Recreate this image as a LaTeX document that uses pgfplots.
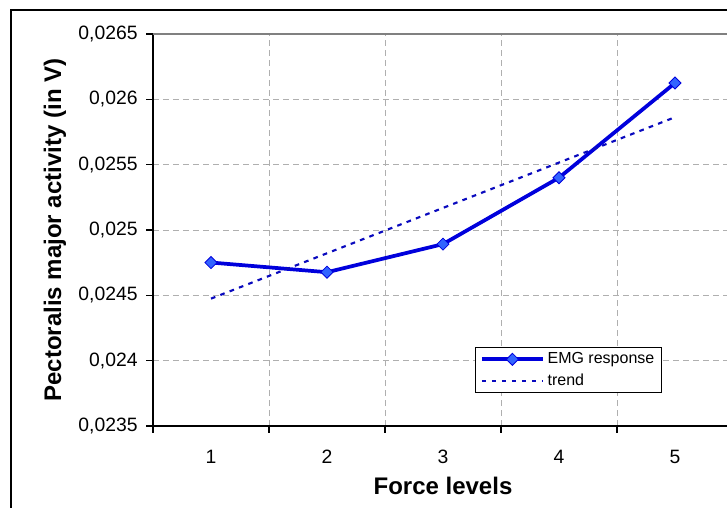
\documentclass[border=0pt]{standalone}
\usepackage{pgfplots}
\pgfplotsset{compat=1.18}
\usepackage{fontspec}
\setmainfont{Liberation Sans}
\definecolor{emg}{RGB}{0,0,220}
\definecolor{emgfill}{RGB}{50,100,255}
\definecolor{trendc}{RGB}{10,10,190}
\definecolor{gridc}{RGB}{175,175,175}
\begin{document}
\begin{tikzpicture}
\path[use as bounding box] (-114.75pt,-60.75pt) rectangle (430.5pt,319.5pt);
\clip (-114.75pt,-60.75pt) rectangle (430.5pt,319.5pt);
\draw[black, line width=0.8pt] (-106.5pt,-100pt) rectangle (520pt,312pt);
\begin{axis}[
  at={(0pt,0pt)}, anchor=south west,
  scale only axis,
  width=435pt, height=294pt,
  xmin=0.5, xmax=5.5,
  ymin=0.0235, ymax=0.0265,
  axis x line*=bottom, axis y line*=left,
  axis line style={black, line width=0.9pt},
  xtick={1,2,3,4,5},
  minor xtick={0.5,1.5,2.5,3.5,4.5,5.5},
  major x tick style={draw=none},
  minor x tick style={black, line width=0.8pt},
  minor tick length=5pt,
  major tick length=5pt,
  tick align=outside,
  xminorgrids=true, xmajorgrids=false,
  ymajorgrids=true,
  ytick={0.0235,0.024,0.0245,0.025,0.0255,0.026,0.0265},
  major y tick style={black, line width=0.8pt},
  grid style={gridc, line width=0.7pt, dash pattern=on 4.5pt off 3pt},
  minor grid style={gridc, line width=0.7pt, dash pattern=on 4.5pt off 3pt},
  scaled y ticks=false,
  /pgf/number format/assume math mode=true,
  yticklabel style={/pgf/number format/fixed, /pgf/number format/precision=4, /pgf/number format/use comma, font=\fontsize{14.5pt}{16pt}\selectfont, anchor=east, xshift=-3pt},
  xticklabel style={font=\fontsize{14.5pt}{16pt}\selectfont, anchor=center, yshift=-18pt},
  xlabel={\textbf{Force levels}},
  ylabel={\textbf{Pectoralis major activity (in V)}},
  every axis x label/.style={at={(axis description cs:0.5,-0.153)}, anchor=center, font=\fontsize{18pt}{20pt}\selectfont},
  every axis y label/.style={at={(axis description cs:-0.169,0.5)}, anchor=center, rotate=90, font=\fontsize{18pt}{20pt}\selectfont},
  legend style={at={(axis description cs:0.556,0.2015)}, anchor=north west, draw=black, line width=0.6pt, font=\fontsize{12pt}{14pt}\selectfont, inner xsep=3pt, inner ysep=2pt, row sep=2pt},
  legend cell align=left,
  legend image code/.code={\draw[mark repeat=2, mark phase=2, #1] plot coordinates {(0pt,0pt) (23pt,0pt) (46pt,0pt)};},
  clip=false,
]
\addplot[emg, line width=2.8pt, mark=square*, mark size=3.2pt, mark options={rotate=45, fill=emgfill, draw=emg, line width=0.6pt, solid}]
  coordinates {(1,0.024751) (2,0.024677) (3,0.024892) (4,0.025400) (5,0.026125)};
\addlegendentry{EMG response}
\addplot[trendc, line width=1.6pt, dash pattern=on 3.5pt off 4pt]
  coordinates {(1,0.0244748) (5,0.0258632)};
\addlegendentry{trend}
\draw[gray, line width=1pt] (rel axis cs:0,1) -- (rel axis cs:1,1);
\end{axis}
\end{tikzpicture}
\end{document}
